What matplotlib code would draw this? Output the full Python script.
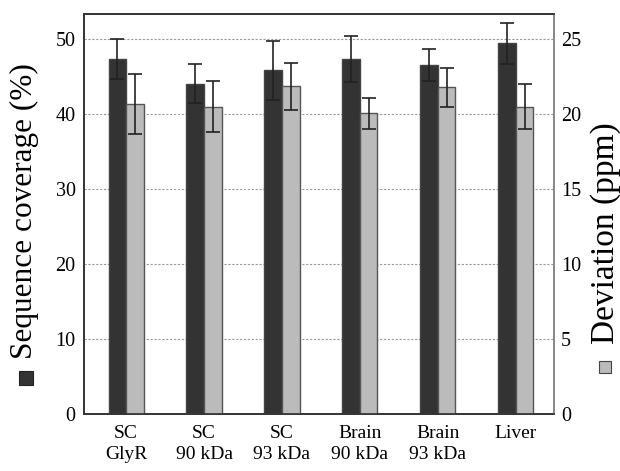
import matplotlib
matplotlib.use("Agg")
import matplotlib.pyplot as plt
import numpy as np
from matplotlib.patches import Rectangle

categories = ["SC\nGlyR", "SC\n90 kDa", "SC\n93 kDa", "Brain\n90 kDa", "Brain\n93 kDa", "Liver"]
coverage = [47.3, 44.0, 45.8, 47.3, 46.5, 49.4]
coverage_err = [2.7, 2.6, 3.9, 3.1, 2.1, 2.7]
deviation = [20.65, 20.5, 21.85, 20.05, 21.8, 20.5]
deviation_err = [2.0, 1.7, 1.55, 1.05, 1.3, 1.5]
left_ticks = [0, 10, 20, 30, 40, 50]
right_ticks = [0, 5, 10, 15, 20, 25]

plt.rcParams['font.family'] = ['Liberation Serif', 'DejaVu Serif']

fig = plt.figure(figsize=(6.2, 4.71), dpi=100)
ax = fig.add_axes([0.1355, 0.121, 0.758, 0.8493])
ax2 = ax.twinx()

x = np.arange(len(categories))
w = 0.225
dark = "#333333"
light = "#bbbbbb"
edge = "#444444"

ax.set_axisbelow(True)
ax.yaxis.grid(True, linestyle=(0, (2, 1.5)), color="#999999", linewidth=0.8)
ax.bar(x - w / 2, coverage, w, color=dark, edgecolor=edge, linewidth=1.0, zorder=2)
ax.errorbar(x - w / 2, coverage, yerr=coverage_err, fmt="none", ecolor="#222222",
            elinewidth=1.2, capsize=5, capthick=1.2, zorder=3)

ax2.bar(x + w / 2, deviation, w, color=light, edgecolor="#555555", linewidth=1.0, zorder=2)
ax2.errorbar(x + w / 2, deviation, yerr=deviation_err, fmt="none", ecolor="#222222",
             elinewidth=1.2, capsize=5, capthick=1.2, zorder=3)

ax.set_xlim(-0.54, 5.49)
ax.set_ylim(0, 53.33)
ax2.set_ylim(0, 26.67)
ax.set_yticks(left_ticks)
ax2.set_yticks(right_ticks)
ax.set_xticks(x)
ax.set_xticklabels(categories, fontsize=14, linespacing=1.3)
ax.tick_params(axis="y", length=0, labelsize=14.5, pad=6)
ax2.tick_params(axis="y", length=0, labelsize=14.5, pad=5)
ax.tick_params(axis="x", length=0, pad=8)

for sp in ["left", "top", "bottom"]:
    ax.spines[sp].set_color("#333333")
    ax2.spines[sp].set_color("#333333")
ax2.spines["right"].set_color("#888888")
ax.spines["right"].set_color("#888888")
for sp in ax.spines.values():
    sp.set_linewidth(1.2)
for sp in ax2.spines.values():
    sp.set_linewidth(1.2)

fig.text(0.040, 0.552, "Sequence coverage (%)", rotation=90, fontsize=22.5,
         ha="center", va="center")
fig.text(0.976, 0.505, "Deviation (ppm)", rotation=90, fontsize=24,
         ha="center", va="center")

# legend-like squares next to axis labels
fig.patches.append(Rectangle((0.030, 1 - 385 / 471), 14 / 620, 14 / 471,
                             transform=fig.transFigure, facecolor=dark,
                             edgecolor="#222222", linewidth=0.8))
fig.patches.append(Rectangle((0.966, 1 - 373 / 471), 12 / 620, 12 / 471,
                             transform=fig.transFigure, facecolor=light,
                             edgecolor="#444444", linewidth=0.8))

fig.savefig("out.png", dpi=100)
